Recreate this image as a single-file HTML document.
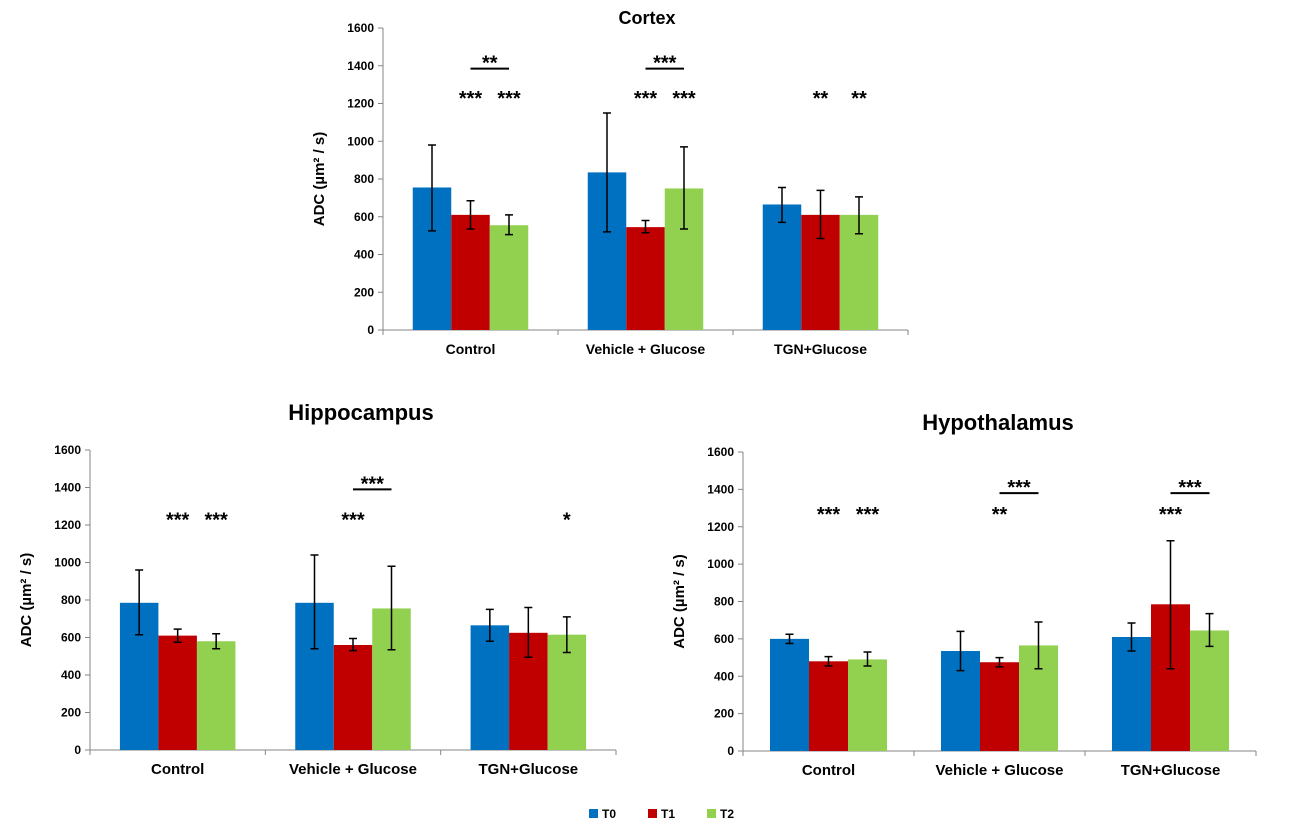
<!DOCTYPE html>
<html><head><meta charset="utf-8"><style>
html,body{margin:0;padding:0;background:#fff;}
svg text{font-family:"Liberation Sans",Arial,sans-serif;font-weight:bold;fill:#000;}
</style></head><body>
<svg id="fig" width="1292" height="829" viewBox="0 0 1292 829" xmlns="http://www.w3.org/2000/svg"></svg>
<script>
const categories = ["Control", "Vehicle + Glucose", "TGN+Glucose"];
const seriesNames = ["T0", "T1", "T2"];
const seriesColors = ["#0070c0", "#c00000", "#92d050"];
const yTicks = [0, 200, 400, 600, 800, 1000, 1200, 1400, 1600];

const cortexMean = [[755, 610, 555], [835, 545, 750], [665, 610, 610]];
const cortexLow  = [[525, 535, 505], [520, 515, 535], [570, 485, 510]];
const cortexHigh = [[980, 685, 610], [1150, 580, 970], [755, 740, 705]];

const hippoMean = [[785, 610, 580], [785, 560, 755], [665, 625, 615]];
const hippoLow  = [[615, 575, 540], [540, 530, 535], [580, 495, 520]];
const hippoHigh = [[960, 645, 620], [1040, 595, 980], [750, 760, 710]];

const hypoMean = [[600, 480, 490], [535, 475, 565], [610, 785, 645]];
const hypoLow  = [[575, 455, 455], [430, 450, 440], [535, 440, 560]];
const hypoHigh = [[625, 505, 530], [640, 500, 690], [685, 1125, 735]];

const cortexStars = [[0,1,1250,"***"],[0,2,1250,"***"],[1,1,1250,"***"],[1,2,1250,"***"],[2,1,1250,"**"],[2,2,1250,"**"]];
const cortexBrackets = [[0,1385,"**"],[1,1385,"***"]];
const hippoStars = [[0,1,1250,"***"],[0,2,1250,"***"],[1,1,1250,"***"],[2,2,1250,"*"]];
const hippoBrackets = [[1,1390,"***"]];
const hypoStars = [[0,1,1290,"***"],[0,2,1290,"***"],[1,1,1290,"**"],[2,1,1290,"***"]];
const hypoBrackets = [[1,1380,"***"],[2,1380,"***"]];

const NS = "http://www.w3.org/2000/svg";
const svg = document.getElementById("fig");
function mk(tag, attrs, parent){
  const e = document.createElementNS(NS, tag);
  for (const k in attrs) e.setAttribute(k, attrs[k]);
  (parent || svg).appendChild(e);
  return e;
}

function drawChart(cfg){
  const g = mk("g", {});
  
  
  const y = v => cfg.y0 - (v / 1600) * (cfg.y0 - cfg.y1);
  const groupW = (cfg.x1 - cfg.x0) / categories.length;
  const barW = cfg.barW;
  const barX = (c, s) => cfg.x0 + groupW * (c + 0.5) + (s - 1.5) * barW;
  const t = mk("text", {x: cfg.titleX, y: cfg.titleY, "font-size": cfg.titleSize, "text-anchor": "middle"}, g);
  t.textContent = cfg.title;
  
  
  const ya = mk("line", {x1: cfg.x0, y1: y(1600), x2: cfg.x0, y2: cfg.y0, stroke: "#868686", "stroke-width": 1}, g);
  
  
  const xa = mk("line", {x1: cfg.x0, y1: cfg.y0, x2: cfg.x1, y2: cfg.y0, stroke: "#868686", "stroke-width": 1}, g);
  
  
  yTicks.forEach(v => {
    mk("line", {x1: cfg.x0 - 5, y1: y(v), x2: cfg.x0, y2: y(v), stroke: "#868686"}, g);
    const tl = mk("text", {x: cfg.x0 - 9, y: y(v) + 4, "font-size": 12, "text-anchor": "end"}, g);
    tl.textContent = v;
    
    
  });
  for (let c = 0; c <= categories.length; c++) {
    mk("line", {x1: cfg.x0 + groupW * c, y1: cfg.y0, x2: cfg.x0 + groupW * c, y2: cfg.y0 + 5, stroke: "#868686"}, g);
  }
  const yt = mk("text", {x: 0, y: 0, "font-size": 15, "text-anchor": "middle", transform: `translate(${cfg.yTitleX},${y(800)}) rotate(-90)`}, g);
  yt.textContent = "ADC  (µm² / s)";
  
  
  categories.forEach((cat, c) => {
    const cl = mk("text", {x: cfg.x0 + groupW * (c + 0.5), y: cfg.y0 + 24, "font-size": cfg.catSize, "text-anchor": "middle"}, g);
    cl.textContent = cat;
    
    
    seriesNames.forEach((sn, s) => {
      const r = mk("rect", {x: barX(c, s), y: y(cfg.mean[c][s]), width: barW, height: cfg.y0 - y(cfg.mean[c][s]), fill: seriesColors[s]}, g);
      
      
      const cx = barX(c, s) + barW / 2;
      const eb = mk("path", {d: `M${cx},${y(cfg.low[c][s])}V${y(cfg.high[c][s])}M${cx-4},${y(cfg.low[c][s])}h8M${cx-4},${y(cfg.high[c][s])}h8`, stroke: "#000", "stroke-width": 1.5, fill: "none"}, g);
      
      
    });
  });
  cfg.stars.forEach(a => {
    const st = mk("text", {x: barX(a[0], a[1]) + barW / 2, y: y(a[2]) + 11, "font-size": 20, "text-anchor": "middle"}, g);
    st.textContent = a[3];
    
    
  });
  cfg.brackets.forEach(b => {
    const xa1 = barX(b[0], 1) + barW / 2, xa2 = barX(b[0], 2) + barW / 2;
    const ln = mk("line", {x1: xa1, y1: y(b[1]), x2: xa2, y2: y(b[1]), stroke: "#000", "stroke-width": 2}, g);
    
    
    const bt = mk("text", {x: (xa1 + xa2) / 2, y: y(b[1]) + 1, "font-size": 20, "text-anchor": "middle"}, g);
    bt.textContent = b[2];
    
    
  });
}

drawChart({name: "cortex", title: "Cortex", titleX: 647, titleY: 24, titleSize: 18, catSize: 14, x0: 383, x1: 908, y0: 330, y1: 28, barW: 38.5, yTitleX: 324, mean: cortexMean, low: cortexLow, high: cortexHigh, stars: cortexStars, brackets: cortexBrackets});
drawChart({name: "hippocampus", title: "Hippocampus", titleX: 361, titleY: 420, titleSize: 22, catSize: 15, x0: 90, x1: 616, y0: 750, y1: 450, barW: 38.5, yTitleX: 31, mean: hippoMean, low: hippoLow, high: hippoHigh, stars: hippoStars, brackets: hippoBrackets});
drawChart({name: "hypothalamus", title: "Hypothalamus", titleX: 998, titleY: 430, titleSize: 22, catSize: 15, x0: 743, x1: 1256, y0: 751, y1: 452, barW: 39, yTitleX: 684, mean: hypoMean, low: hypoLow, high: hypoHigh, stars: hypoStars, brackets: hypoBrackets});

const lg = mk("g", {});


seriesNames.forEach((sn, s) => {
  const sw = mk("rect", {x: 589 + s * 59, y: 809, width: 9, height: 9, fill: seriesColors[s]}, lg);
  
  
  const lt = mk("text", {x: 602 + s * 59, y: 818, "font-size": 12}, lg);
  lt.textContent = sn;
  
  
});
</script>
</body></html>
